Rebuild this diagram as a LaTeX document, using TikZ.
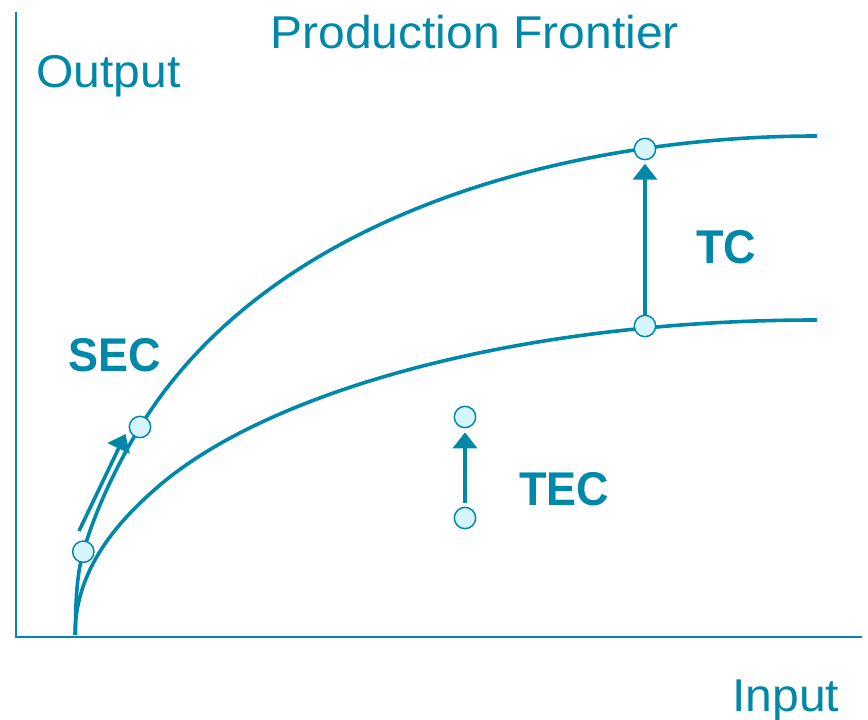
\documentclass[tikz,border=0pt]{standalone}
\usepackage{fontspec}
\setmainfont{Liberation Sans}
\newfontfamily\pfwide[FakeStretch=1.045]{Liberation Sans}
\newfontfamily\pfnarrow[FakeStretch=0.95]{Liberation Sans}
\usetikzlibrary{arrows.meta}
\definecolor{pfteal}{HTML}{0088A8}
\definecolor{pfdot}{HTML}{D5F4FC}
\tikzset{%
    axs/.style={line width = 1.5pt, pfteal},
    crv/.style={line width = 2.7pt, pfteal},
    dot/.style={circle, draw=pfteal, fill=pfdot, line width=1.1pt, minimum size=16pt, inner sep=0pt},
    ara/.style={line width = 2.7pt, pfteal, -{Triangle[length=12pt,width=18pt]}},
    lbl/.style={text=pfteal, inner sep=0pt, anchor=base west, font=\pfwide\fontsize{34.5}{40}\selectfont},
    blb/.style={text=pfteal, inner sep=0pt, anchor=base west, font=\pfnarrow\fontsize{35.5}{40}\selectfont\bfseries},
}
\begin{document}
\begin{tikzpicture}[x=0.75pt,y=-0.75pt]
    \useasboundingbox (0,0) rectangle (868,720);
    % axes
    \coordinate (O) at (16,637);
    \coordinate (ytop) at (16,12);
    \coordinate (xend) at (862,637);
    \draw [axs] (ytop) -- (O) -- (xend);
    \node [lbl] (ttl) at (270,49) {Production Frontier};
    \node [lbl] (yl) at (36,88) {Output};
    \node [lbl] (xl) at (732,711) {Input};
    % frontiers
    \draw [crv] (75.5,635) .. controls (75.5,605) and (76.3,576) .. (83.3,551.7)
        .. controls (95.3,509.7) and (118,463) .. (140,427)
        .. controls (270,215) and (567,136) .. (817,136);
    \draw [crv] (75,635) .. controls (75,575) and (110,527.5) .. (160,485)
        .. controls (270,391.5) and (517,320) .. (817,320);
    % points
    \node [dot] (s1) at (83.3,551.7) {};
    \node [dot] (s2) at (140,427) {};
    \node [dot] (hi) at (645,149) {};
    \node [dot] (lo) at (645,326) {};
    \node [dot] (tt) at (465,417) {};
    \node [dot] (tb) at (465,518) {};
    % changes
    \coordinate (secA) at (79,531);
    \coordinate (secB) at (125.5,434);
    \draw [ara] (secA) -- (secB);
    \draw [ara, shorten >=2.5pt] (lo.north) -- (hi.south);
    \draw [ara, shorten >=3pt, shorten <=3pt] (tb.north) -- (tt.south);
    \node [blb] (sec) at (68,372) {SEC};
    \node [blb] (tc) at (696,264) {TC};
    \node [blb] (tec) at (519,505) {TEC};
\end{tikzpicture}
\end{document}
